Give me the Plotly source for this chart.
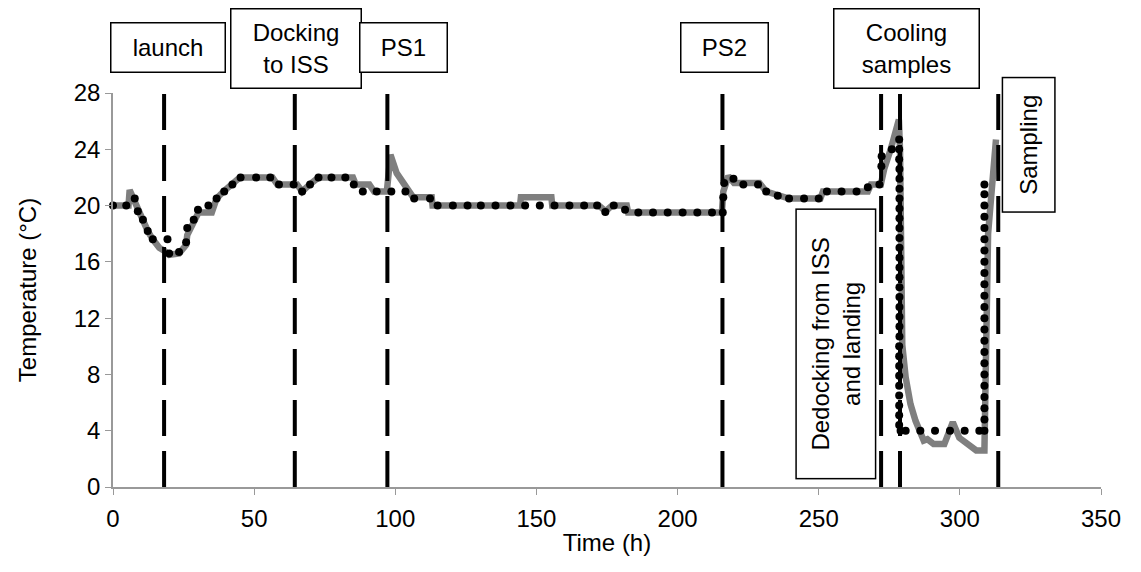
import plotly.graph_objects as go

# Grey series (measured temperature), time in h, temperature in °C
grey_t = [0, 5.5, 5.9, 8.3, 10.6, 12.3, 14.1, 16.4, 18.1, 19.9, 23.4, 25.9, 26.3, 28.6, 30.3,
          35.0, 36.7, 39.1, 41.9, 44.9, 56.5, 58.2, 65.2, 67.0, 69.7, 72.8, 85.0, 86.0, 90.8,
          92.5, 97.0, 98.3, 100.5, 103.4, 106.3, 112.9, 113.2, 144.2, 144.5, 155.3, 155.6,
          172.1, 174.5, 176.8, 182.0, 182.5, 215.7, 216.2, 218.0, 220.0, 229.0, 231.4, 235.5,
          239.5, 250.6, 251.5, 267.4, 268.5, 272.0, 273.2, 275.5, 277.3, 278.4, 278.8, 279.2,
          279.6, 280.8, 282.5, 284.3, 286.0, 287.2, 288.5, 290.7, 294.5, 295.3, 297.5, 299.8,
          302.0, 304.6, 305.8, 308.7, 309.3, 310.0, 311.0, 312.2, 312.8]
grey_temp = [20.0, 20.0, 21.1, 19.9, 19.0, 18.2, 17.6, 17.0, 16.8, 16.5, 16.6, 17.2, 17.9, 18.9, 19.5,
             19.5, 20.5, 21.0, 21.5, 22.0, 22.0, 21.5, 21.5, 21.0, 21.5, 22.0, 22.0, 21.5, 21.5,
             21.0, 21.0, 23.6, 22.3, 21.4, 20.6, 20.6, 20.0, 20.0, 20.6, 20.6, 20.0,
             20.0, 19.6, 20.0, 20.0, 19.5, 19.5, 21.0, 22.1, 21.6, 21.6, 21.0, 20.7,
             20.5, 20.5, 21.0, 21.0, 21.5, 21.5, 22.6, 24.0, 25.4, 26.1, 24.0, 15.0,
             10.1, 7.8, 5.9, 4.7, 3.8, 3.3, 3.4, 3.05, 3.05, 3.5, 4.6, 3.5,
             3.2, 2.8, 2.6, 2.6, 15.0, 18.0, 20.4, 23.0, 24.7]

# Black dotted series
black_t = [0, 4.7, 7.7, 8.8, 10.6, 12.3, 14.1, 19.3, 19.9, 23.4, 25.9, 26.3, 28.6, 30.1, 33.8,
           36.7, 39.4, 42.3, 45.2, 50.7, 55.7, 58.8, 64.0, 67.0, 69.8, 72.8, 77.4, 82.3, 85.3,
           88.5, 93.4, 98.6, 103.6, 106.7, 112.3, 115.0, 120.4, 125.6, 130.3, 135.5, 140.8,
           146.0, 151.2, 156.4, 161.7, 166.9, 171.5, 174.4, 177.4, 181.4, 186.1, 191.3, 196.5,
           201.8, 207.0, 212.2, 216.0, 216.2, 216.5, 219.8, 223.3, 228.5, 231.4, 235.5, 239.5,
           244.8, 250.0, 252.9, 258.1, 263.4, 267.4, 271.5, 272.2, 272.3, 275.9,
           278.5, 278.5, 278.5, 278.6, 278.6, 278.6, 278.6, 278.6, 278.6, 278.6, 278.6, 278.6,
           278.6, 278.6, 278.6, 278.6, 278.6, 278.6, 278.6, 278.6, 278.6, 278.5, 278.5, 278.5,
           278.5, 278.5, 278.5, 278.5, 278.5, 278.5, 279.0,
           280.8, 286.0, 291.2, 296.5, 301.7, 306.9,
           308.7, 308.7, 308.7, 308.7, 308.7, 308.7, 308.7, 308.7, 308.7, 308.7, 308.7, 308.7,
           308.7, 308.7, 308.7, 308.7, 308.7, 308.7, 308.7, 308.7, 308.7, 308.7, 308.7]
black_temp = [20.0, 20.0, 20.5, 19.6, 19.0, 18.2, 17.6, 17.6, 16.6, 16.7, 17.4, 18.4, 19.0, 19.7, 20.0,
              20.5, 21.0, 21.5, 22.0, 22.0, 22.0, 21.5, 21.5, 21.0, 21.5, 22.0, 22.0, 22.0, 21.5,
              21.0, 21.0, 21.0, 21.0, 20.5, 20.5, 20.0, 20.0, 20.0, 20.0, 20.0, 20.0,
              20.0, 20.0, 20.0, 20.0, 20.0, 20.0, 19.55, 20.0, 19.7, 19.5, 19.5, 19.5,
              19.5, 19.5, 19.5, 19.5, 20.6, 21.6, 21.9, 21.5, 21.5, 21.0, 20.7, 20.5,
              20.5, 20.5, 21.0, 21.0, 21.0, 21.3, 21.5, 22.8, 23.5, 24.0,
              24.7, 24.0, 23.3, 22.6, 21.9, 21.2, 20.5, 19.8, 19.1, 18.4, 17.7, 17.0,
              16.3, 15.6, 14.9, 14.2, 13.5, 12.8, 12.1, 11.4, 10.7, 10.0, 9.3, 8.6,
              7.9, 7.2, 6.5, 5.8, 5.1, 4.4, 4.0,
              4.0, 4.0, 4.0, 4.0, 4.0, 4.0,
              4.0, 4.8, 5.6, 6.4, 7.2, 8.0, 8.8, 9.6, 10.4, 11.2, 12.0, 12.8,
              13.6, 14.4, 15.2, 16.0, 16.8, 17.6, 18.4, 19.2, 20.0, 20.8, 21.5]

# Event markers (vertical dashed lines), h
event_t = [18.1, 64.4, 97.2, 215.9, 272.1, 278.8, 313.6]

# Event labels: text, centre time, centre temperature, box size along text / across text (px), angle
labels = ["launch", "Docking<br>to ISS", "PS1", "PS2", "Cooling<br>samples",
          "Sampling", "Dedocking from ISS<br>and landing"]
label_t = [19.35, 64.67, 102.8, 216.5, 281.0, 324.4, 255.9]
label_temp = [31.24, 31.17, 31.24, 31.24, 31.17, 24.3, 10.16]
label_w = [113, 129, 86, 86, 144, 133, 268]
label_h = [48, 78, 48, 48, 78, 51, 78]
label_angle = [0, 0, 0, 0, 0, -90, -90]

X_MAX, Y_MAX = 350, 28
FONT = "Liberation Sans, Arial, sans-serif"

fig = go.Figure()
fig.add_trace(go.Scatter(x=grey_t, y=grey_temp, mode="lines",
                         line=dict(color="#7f7f7f", width=6.5), showlegend=False,
                         cliponaxis=False))
fig.add_trace(go.Scatter(x=black_t, y=black_temp, mode="markers",
                         marker=dict(color="black", size=8), showlegend=False,
                         cliponaxis=False))

for t in event_t:
    fig.add_shape(type="line", xref="x", yref="y", x0=t, x1=t, y0=0, y1=Y_MAX,
                  line=dict(color="black", width=4, dash="36px,15px"), layer="above")

for txt, t, tp, w, h, a in zip(labels, label_t, label_temp, label_w, label_h, label_angle):
    fig.add_annotation(x=t / X_MAX, y=tp / Y_MAX, xref="paper", yref="paper", text=txt,
                       showarrow=False, xanchor="center", yanchor="middle",
                       width=w, height=h, textangle=a,
                       bordercolor="black", borderwidth=1.5, borderpad=0,
                       bgcolor="white", align="center",
                       font=dict(family=FONT, size=24, color="black"))

fig.update_layout(
    width=1125, height=556,
    margin=dict(l=105, r=21, t=85, b=74),
    plot_bgcolor="white", paper_bgcolor="white",
    font=dict(family=FONT, size=24, color="black"),
    xaxis=dict(range=[0, X_MAX], dtick=50, tick0=0, showgrid=False, zeroline=False,
               showline=True, linecolor="#999999", linewidth=1.5,
               ticks="outside", ticklen=6, tickcolor="#999999", ticklabelstandoff=3,
               title=dict(text="Time (h)", font=dict(size=24), standoff=4)),
    yaxis=dict(range=[0, Y_MAX], dtick=4, tick0=0, showgrid=False, zeroline=False,
               showline=True, linecolor="#999999", linewidth=1.5,
               ticks="outside", ticklen=6, tickcolor="#999999",
               title=dict(text="Temperature (°C)", font=dict(size=24), standoff=30)),
)

fig.write_html("out.html")
